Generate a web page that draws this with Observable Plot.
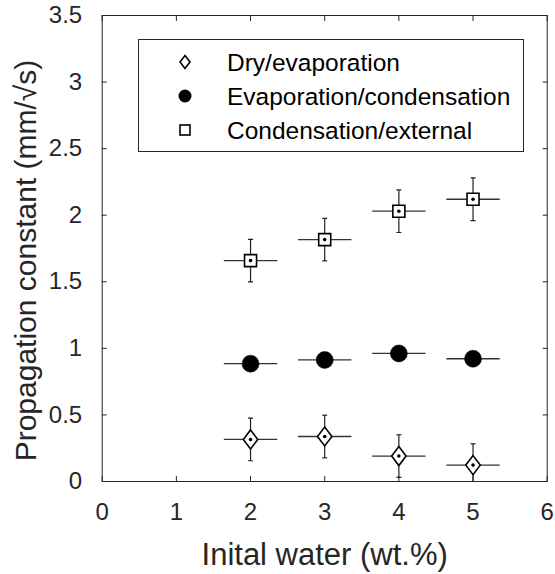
<!DOCTYPE html>
<html><head><meta charset="utf-8">
<script src="https://cdn.jsdelivr.net/npm/d3@7"></script>
<script src="https://cdn.jsdelivr.net/npm/@observablehq/plot@0.6"></script>
<style>
body{margin:0;background:#fff;font-family:"Liberation Sans",Arial,sans-serif;}
#wrap{position:relative;width:555px;height:574px;}
#legend{position:absolute;left:138px;top:39px;width:386px;height:113px;border:1px solid #262626;background:#fff;box-sizing:border-box;}
#legend svg{position:absolute;left:0;top:0;}
</style></head><body><div id="wrap"></div>
<script>
// ---- data ----
const water = [2, 3, 4, 5];
const waterErr = [0.36, 0.36, 0.36, 0.36];
const dryVal = [0.316, 0.338, 0.191, 0.123];
const dryErr = [0.16, 0.16, 0.16, 0.16];
const evapVal = [0.885, 0.913, 0.962, 0.922];
const evapErr = [0, 0, 0, 0];
const condVal = [1.659, 1.817, 2.03, 2.12];
const condErr = [0.16, 0.16, 0.16, 0.16];
const seriesNames = ["Dry/evaporation", "Evaporation/condensation", "Condensation/external"];
const xTicks = [0, 1, 2, 3, 4, 5, 6];
const yTicks = [0, 0.5, 1, 1.5, 2, 2.5, 3, 3.5];
const xTitle = "Inital water (wt.%)";
const yTitle = "Propagation constant (mm/\u221As)";

// ---- build table ----
const vals = [dryVal, evapVal, condVal];
const errs = [dryErr, evapErr, condErr];
const rows = [];
vals.forEach((v, s) => water.forEach((w, i) => rows.push({s, x: w, y: v[i], xe: waterErr[i], ye: errs[s][i]})));
const caps = [];
rows.filter(d => d.ye > 0).forEach(d => { caps.push({x: d.x, y: d.y - d.ye}); caps.push({x: d.x, y: d.y + d.ye}); });

// ---- symbols ----
const diamondSym = {draw(ctx, size) { const r = Math.sqrt(size / Math.PI); const w = r * 0.76; ctx.moveTo(0, -r); ctx.lineTo(w, 0); ctx.lineTo(0, r); ctx.lineTo(-w, 0); ctx.closePath(); }};
const squareSym = {draw(ctx, size) { const r = Math.sqrt(size / Math.PI); ctx.rect(-r, -r, 2 * r, 2 * r); }};
const capSym = {draw(ctx, size) { const r = Math.sqrt(size / Math.PI); ctx.moveTo(-r, 0); ctx.lineTo(r, 0); }};

const ink = "#262626";
const font = "'Liberation Sans', Arial, sans-serif";
const fmt = d3.format("~g");

const plot = Plot.plot({
  width: 555, height: 574,
  marginLeft: 101.7, marginRight: 8.3, marginTop: 15, marginBottom: 93,
  style: {fontFamily: font, fontSize: "24px", color: ink, background: "#fff"},
  x: {domain: [0, 6]},
  y: {domain: [0, 3.5]},
  marks: [
    Plot.axisX(xTicks, {anchor: "bottom", tickSize: 0, tickPadding: 21, tickFormat: fmt, label: null, fill: ink}),
    Plot.axisX(xTicks, {anchor: "bottom", tickSize: -5, tickFormat: () => "", label: null, stroke: ink}),
    Plot.axisX(xTicks, {anchor: "top", tickSize: -5, tickFormat: () => "", label: null, stroke: ink}),
    Plot.axisY(yTicks, {anchor: "left", tickSize: 0, tickPadding: 20, tickFormat: fmt, label: null, fill: ink}),
    Plot.axisY(yTicks, {anchor: "left", tickSize: -5, tickFormat: () => "", label: null, stroke: ink}),
    Plot.axisY(yTicks, {anchor: "right", tickSize: -5, tickFormat: () => "", label: null, stroke: ink}),
    Plot.frame({stroke: ink, strokeWidth: 1}),
    Plot.link(rows, {x1: d => d.x - d.xe, x2: d => d.x + d.xe, y1: "y", y2: "y", stroke: "#333", strokeWidth: 1.3}),
    Plot.link(rows.filter(d => d.ye > 0), {x1: "x", x2: "x", y1: d => d.y - d.ye, y2: d => d.y + d.ye, stroke: "#222", strokeWidth: 1.2, clip: true}),
    Plot.dot(caps, {x: "x", y: "y", symbol: capSym, r: 2.5, stroke: "#222", strokeWidth: 1.2, clip: true}),
    Plot.dot(rows.filter(d => d.s === 0), {x: "x", y: "y", symbol: diamondSym, r: 9.5, fill: "white", stroke: "black", strokeWidth: 1.6}),
    Plot.dot(rows.filter(d => d.s === 1), {x: "x", y: "y", r: 8.5, fill: "black", stroke: "black", strokeWidth: 0.5}),
    Plot.dot(rows.filter(d => d.s === 2), {x: "x", y: "y", symbol: squareSym, r: 6, fill: "white", stroke: "black", strokeWidth: 1.6}),
    Plot.dot(rows.filter(d => d.s !== 1), {x: "x", y: "y", r: 1.8, fill: "black"}),
    Plot.text([xTitle], {text: d => d, frameAnchor: "bottom", dy: 74, lineAnchor: "middle", textAnchor: "middle", fontSize: 31, fill: ink}),
    Plot.text([yTitle], {text: d => d, frameAnchor: "left", dx: -76, dy: 12, rotate: -90, lineAnchor: "middle", textAnchor: "middle", fontSize: 30, fill: ink})
  ]
});
const wrap = document.getElementById("wrap");
wrap.appendChild(plot);

// ---- legend ----
const leg = document.createElement("div");
leg.id = "legend";
wrap.appendChild(leg);
const svg = d3.select(leg).append("svg").attr("width", 384).attr("height", 111);
const rowY = [22, 56, 90];
const mx = 46, tx = 88;
seriesNames.forEach((name, i) => {
  const g = svg.append("g").attr("transform", `translate(${mx},${rowY[i]})`);
  if (i === 0) g.append("path").attr("d", "M0,-6.5L5,0L0,6.5L-5,0Z").attr("fill", "white").attr("stroke", "black").attr("stroke-width", 1.6);
  if (i === 1) g.append("circle").attr("r", 6.5).attr("fill", "black");
  if (i === 2) g.append("rect").attr("x", -5).attr("y", -5).attr("width", 10).attr("height", 10).attr("fill", "white").attr("stroke", "black").attr("stroke-width", 1.6);
  svg.append("text").attr("x", tx).attr("y", rowY[i]).attr("dy", "0.36em")
    .attr("font-family", font).attr("font-size", 24.5).attr("fill", "black").text(name);
});
</script>
</body></html>
